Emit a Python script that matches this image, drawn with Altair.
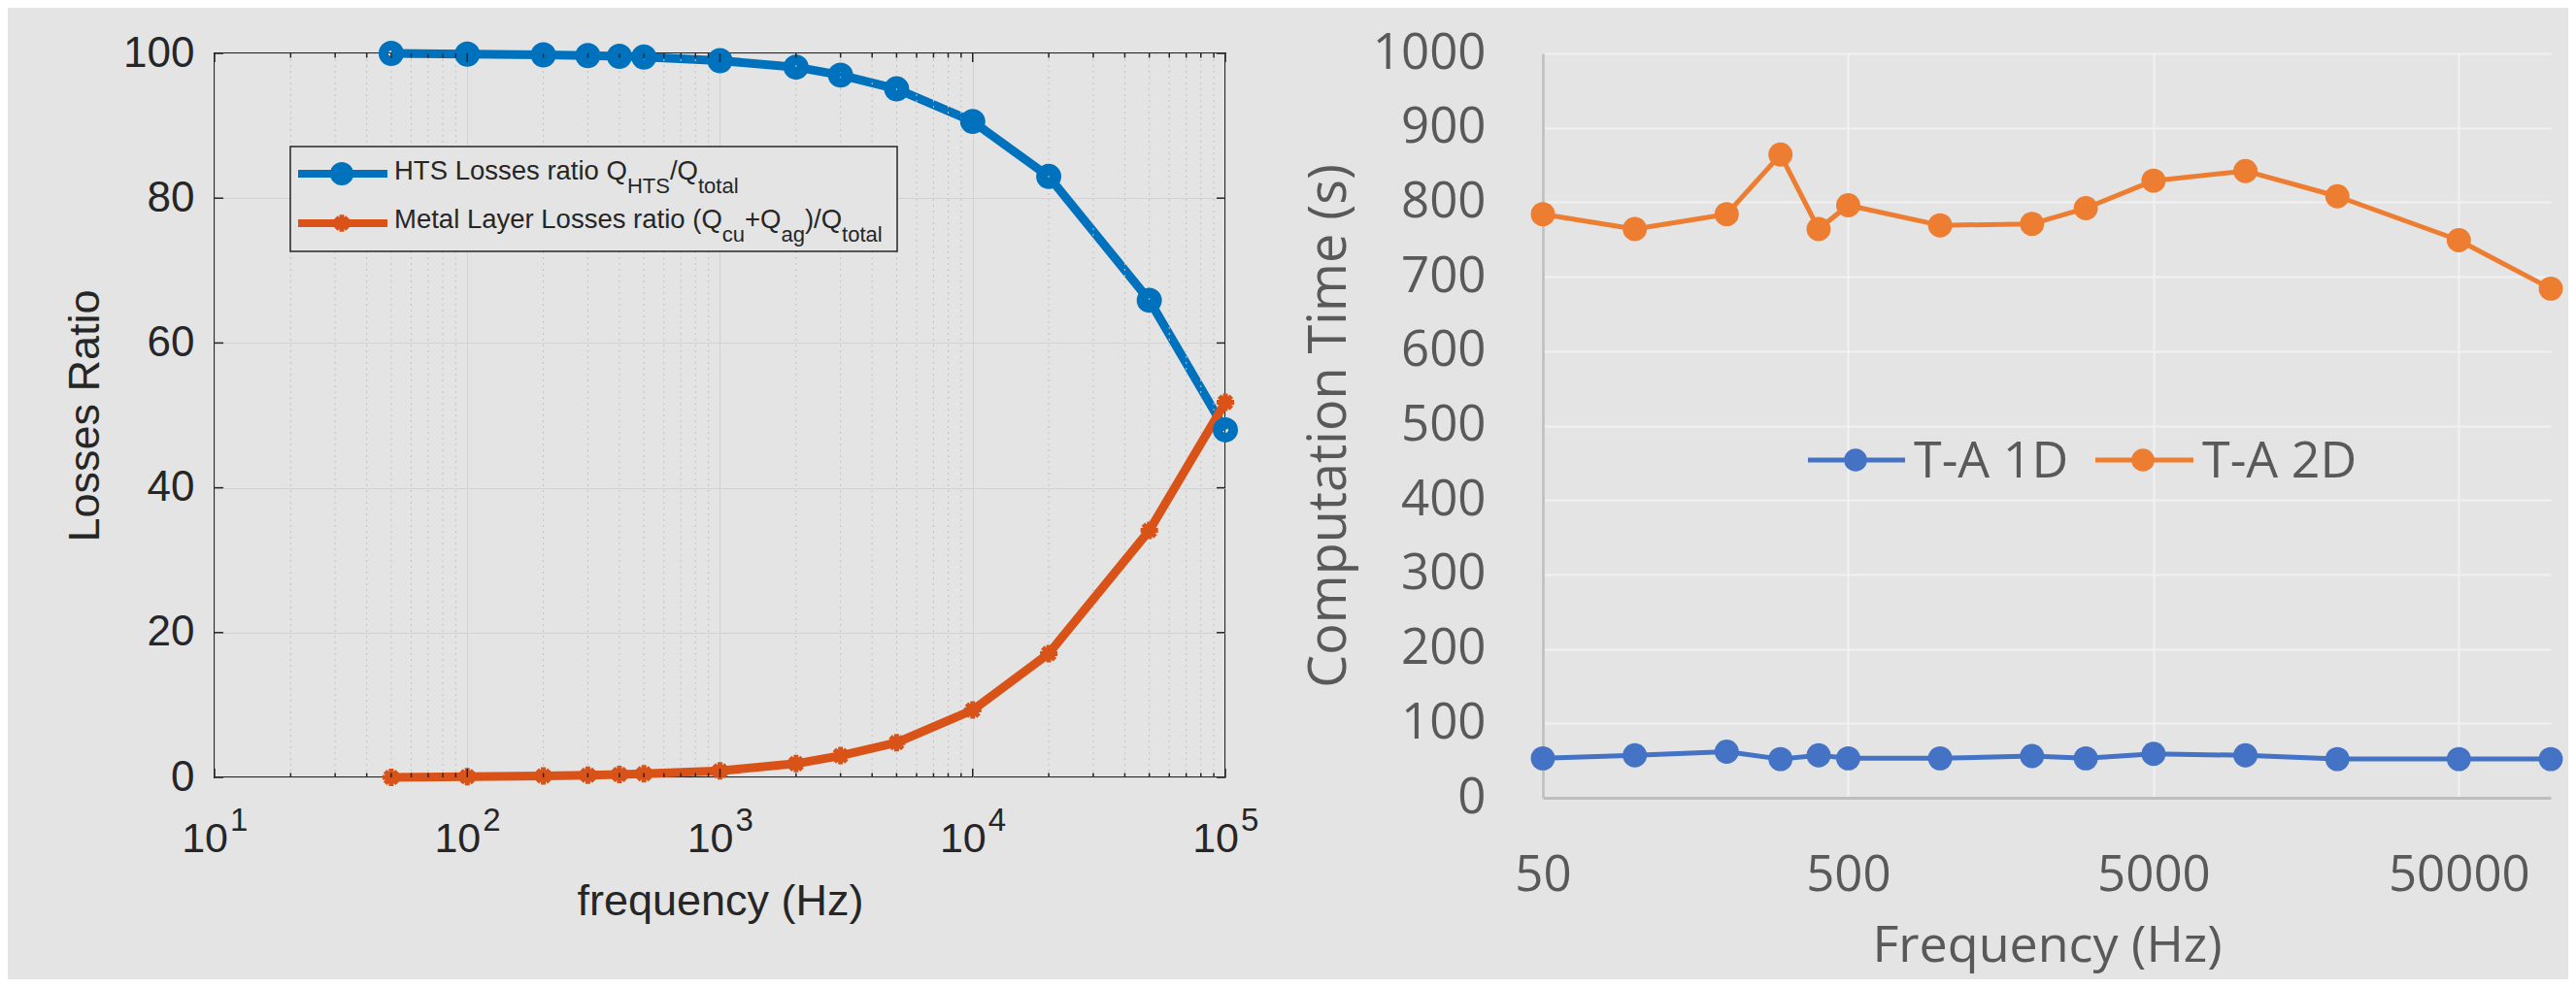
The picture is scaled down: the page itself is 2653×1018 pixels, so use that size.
import altair as alt
import pandas as pd

# ---------------- data ----------------
freq = [50, 100, 200, 300, 400, 500, 1000, 2000, 3000, 5000, 10000, 20000, 50000, 100000]
hts_ratio = [100.0, 99.9, 99.8, 99.7, 99.6, 99.5, 99.0, 98.1, 97.0, 95.1, 90.6, 83.0, 65.9, 48.0]
metal_ratio = [0.0, 0.1, 0.2, 0.3, 0.4, 0.5, 0.9, 1.9, 3.0, 4.8, 9.3, 17.1, 34.1, 51.8]
ta_1d = [53, 57, 62, 52, 57, 53, 53, 56, 53, 59, 57, 52, 52, 52]
ta_2d = [784, 764, 784, 864, 764, 796, 769, 771, 792, 829, 842, 808, 749, 684]

left_y_ticks = [0, 20, 40, 60, 80, 100]
left_x_decades = [10, 100, 1000, 10000, 100000]
left_x_base = ["10", "10", "10", "10", "10"]
left_x_exponents = ["1", "2", "3", "4", "5"]
left_x_minor = [m * d for d in (10, 100, 1000, 10000) for m in range(2, 10)]
right_y_ticks = [0, 100, 200, 300, 400, 500, 600, 700, 800, 900, 1000]
right_x_ticks = [50, 500, 5000, 50000]
right_series = ["T-A 1D", "T-A 2D"]

legend_row1 = [("HTS Losses ratio Q", "main"), ("HTS", "sub"), ("/Q", "main"), ("total", "sub")]
legend_row2 = [("Metal Layer Losses ratio (Q", "main"), ("cu", "sub"), ("+Q", "main"),
               ("ag", "sub"), (")/Q", "main"), ("total", "sub")]

# ---------------- styles ----------------
BG = "#e4e4e4"
LF = "Liberation Sans"
RF = "Open Sans"
INK = "#262626"
GREY = "#595959"
MBLUE, MORANGE = "#0072BD", "#D95319"
XBLUE, XORANGE = "#4472C4", "#ED7D31"
LW, LH = 1041, 746
RW, RH = 1038, 767
ASTERISK = "M-1,0L1,0M0,-1L0,1M-0.7,-0.7L0.7,0.7M-0.7,0.7L0.7,-0.7"

ARIAL_W = {"H": 722, "T": 611, "S": 667, "L": 556, "o": 556, "s": 500, "e": 556, "r": 333,
           "a": 556, "t": 278, "i": 222, "Q": 778, " ": 278, "/": 278, "M": 833, "l": 222,
           "y": 500, "(": 333, ")": 333, "c": 500, "u": 556, "+": 584, "g": 556}


def text_width(s, size):
    return sum(ARIAL_W[c] for c in s) / 1000.0 * size


one = pd.DataFrame({"k": [0]})


def ptext(txt, x, y, size, font, color):
    return alt.Chart(one).mark_text(text=txt, font=font, fontSize=size, color=color,
                                    align="left", baseline="alphabetic").encode(
        x=alt.value(x), y=alt.value(y))


# ---------------- left chart (MATLAB style) ----------------
xl = alt.Scale(type="log", domain=[10, 100000], nice=False)
yl = alt.Scale(domain=[0, 100], nice=False, zero=False)
df_left = pd.DataFrame({"freq": freq, "hts": hts_ratio, "metal": metal_ratio})

x_axis_left = alt.Axis(values=left_x_decades, labels=False, ticks=False, domain=False,
                       grid=True, gridColor="#d2d2d2", gridWidth=1,
                       title="frequency (Hz)", titleFont=LF, titleFontSize=45,
                       titleFontWeight="normal", titleColor=INK, titlePadding=105)
y_axis_left = alt.Axis(values=left_y_ticks, format="d", ticks=False, domain=False,
                       grid=True, gridColor="#d2d2d2", gridWidth=1,
                       labelFont=LF, labelFontSize=44, labelColor=INK, labelPadding=21,
                       title="Losses Ratio", titleFont=LF, titleFontSize=45,
                       titleFontWeight="normal", titleColor=INK, titlePadding=16)

X_L = alt.X("freq:Q", scale=xl)

hts_line = alt.Chart(df_left).mark_line(color=MBLUE, strokeWidth=9, strokeJoin="round").encode(
    x=alt.X("freq:Q", scale=xl, axis=x_axis_left),
    y=alt.Y("hts:Q", scale=yl, axis=y_axis_left),
)
minor_grid = alt.Chart(pd.DataFrame({"freq": left_x_minor})).mark_rule(
    color="#c2c2c2", strokeDash=[2, 4], strokeWidth=1
).encode(x=X_L)
metal_line = alt.Chart(df_left).mark_line(color=MORANGE, strokeWidth=9, strokeJoin="round").encode(
    x=X_L, y=alt.Y("metal:Q", scale=yl),
)
hts_pts = alt.Chart(df_left).mark_point(shape="circle", filled=False, color=MBLUE,
                                        strokeWidth=10, size=254, opacity=1).encode(
    x=X_L, y=alt.Y("hts:Q", scale=yl),
)
metal_pts = alt.Chart(df_left).mark_point(shape=ASTERISK, filled=False, color=MORANGE,
                                          strokeWidth=5, size=324, opacity=1).encode(
    x=X_L, y=alt.Y("metal:Q", scale=yl),
)


def x_ticks(vals, length, top):
    ch = alt.Chart(pd.DataFrame({"freq": vals})).mark_rule(color=INK, strokeWidth=1.5)
    if top:
        return ch.encode(x=X_L, y=alt.value(0), y2=alt.value(length))
    return ch.encode(x=X_L, y=alt.value(LH), y2=alt.value(LH - length))


def y_ticks(length, right):
    ch = alt.Chart(pd.DataFrame({"hts": left_y_ticks})).mark_rule(color=INK, strokeWidth=1.5)
    if right:
        return ch.encode(y=alt.Y("hts:Q", scale=yl), x=alt.value(LW - length), x2=alt.value(LW))
    return ch.encode(y=alt.Y("hts:Q", scale=yl), x=alt.value(0), x2=alt.value(length))


tick_layers = [x_ticks(left_x_decades, 9, False), x_ticks(left_x_decades, 9, True),
               x_ticks(left_x_minor, 4.5, False), x_ticks(left_x_minor, 4.5, True),
               y_ticks(9, False), y_ticks(9, True)]

lab_df = pd.DataFrame({"freq": left_x_decades, "base": left_x_base, "exp": left_x_exponents})
lab_base = alt.Chart(lab_df).mark_text(font=LF, fontSize=43, color=INK, align="right",
                                       baseline="alphabetic", dx=14).encode(
    x=X_L, y=alt.value(LH + 77), text="base:N")
lab_exp = alt.Chart(lab_df).mark_text(font=LF, fontSize=33, color=INK, align="left",
                                      baseline="alphabetic", dx=16).encode(
    x=X_L, y=alt.value(LH + 55), text="exp:N")

# legend (box, symbols, rich text with subscripts)
leg_box = alt.Chart(one).mark_rect(fill=BG, stroke=INK, strokeWidth=1.5).encode(
    x=alt.value(78), x2=alt.value(703), y=alt.value(96), y2=alt.value(204))
leg_l1 = alt.Chart(one).mark_rule(color=MBLUE, strokeWidth=8).encode(
    x=alt.value(86), x2=alt.value(178), y=alt.value(124))
leg_l2 = alt.Chart(one).mark_rule(color=MORANGE, strokeWidth=8).encode(
    x=alt.value(86), x2=alt.value(178), y=alt.value(175))
leg_m1 = alt.Chart(one).mark_point(shape="circle", filled=False, color=MBLUE, strokeWidth=10,
                                   size=200, opacity=1).encode(x=alt.value(131), y=alt.value(124))
leg_m2 = alt.Chart(one).mark_point(shape=ASTERISK, filled=False, color=MORANGE, strokeWidth=5,
                                   size=300, opacity=1).encode(x=alt.value(131), y=alt.value(175))

leg_texts = []
for row, base_y in ((legend_row1, 130), (legend_row2, 180)):
    x = 185.0
    for txt, kind in row:
        fs = 27.5 if kind == "main" else 22
        yy = base_y if kind == "main" else base_y + 14
        leg_texts.append(ptext(txt, round(x, 1), yy, fs, LF, INK))
        x += text_width(txt, fs)

left = alt.layer(
    hts_line, minor_grid, metal_line, hts_pts, metal_pts, *tick_layers, lab_base, lab_exp,
    leg_box, leg_l1, leg_l2, leg_m1, leg_m2, *leg_texts,
).properties(width=LW, height=LH, view=alt.ViewBackground(stroke=INK, strokeWidth=2))

# ---------------- right chart (Excel style) ----------------
xr = alt.Scale(type="log", domain=[50, 100000], nice=False)
yr = alt.Scale(domain=[0, 1000], nice=False)
cs = alt.Scale(domain=right_series, range=[XBLUE, XORANGE])
df_right = pd.DataFrame({
    "freq": freq + freq,
    "time": ta_1d + ta_2d,
    "series": [right_series[0]] * len(freq) + [right_series[1]] * len(freq),
})

x_axis_right = alt.Axis(values=right_x_ticks, format="d", labelFont=RF, labelFontSize=51,
                        labelColor=GREY, labelPadding=55, labelFlush=False, labelOverlap=False,
                        ticks=False, domain=True, domainColor="#bdbdbd", domainWidth=3,
                        grid=True, gridColor="#f1f1f1", gridWidth=2,
                        title="Frequency (Hz)", titleFont=RF, titleFontSize=52,
                        titleFontWeight="normal", titleColor=GREY, titlePadding=22)
y_axis_right = alt.Axis(values=right_y_ticks, format="d", labelFont=RF, labelFontSize=51,
                        labelColor=GREY, labelPadding=59, labelOverlap=False,
                        ticks=False, domain=True, domainColor="#bdbdbd", domainWidth=2.5,
                        grid=True, gridColor="#f1f1f1", gridWidth=2,
                        title="Computation Time (s)", titleFont=RF, titleFontSize=54,
                        titleFontWeight="normal", titleColor=GREY, titlePadding=17)

r_lines = alt.Chart(df_right).mark_line(strokeWidth=5, strokeJoin="round").encode(
    x=alt.X("freq:Q", scale=xr, axis=x_axis_right),
    y=alt.Y("time:Q", scale=yr, axis=y_axis_right),
    color=alt.Color("series:N", scale=cs, legend=None),
)
r_pts = alt.Chart(df_right).mark_circle(size=620, opacity=1).encode(
    x=alt.X("freq:Q", scale=xr),
    y=alt.Y("time:Q", scale=yr),
    color=alt.Color("series:N", scale=cs, legend=None),
)

# legend drawn inside the plot (line + marker + label)
r_leg = []
for (x0, x1, xm, xt), col, name in (((273, 373, 322, 382), XBLUE, right_series[0]),
                                     ((569, 670, 618, 679), XORANGE, right_series[1])):
    r_leg.append(alt.Chart(one).mark_rule(color=col, strokeWidth=5).encode(
        x=alt.value(x0), x2=alt.value(x1), y=alt.value(419)))
    r_leg.append(alt.Chart(one).mark_circle(color=col, size=560, opacity=1).encode(
        x=alt.value(xm), y=alt.value(419)))
    r_leg.append(ptext(name, xt, 437, 52, RF, GREY))

right = alt.layer(r_lines, r_pts, *r_leg).properties(width=RW, height=RH)

chart = alt.hconcat(left, right, spacing=43).properties(
    background=BG,
    padding={"left": 56, "top": 18, "right": 5, "bottom": 8},
).configure_view(stroke="transparent")

chart.save("out.html", embed_options={"renderer": "svg", "actions": False})
